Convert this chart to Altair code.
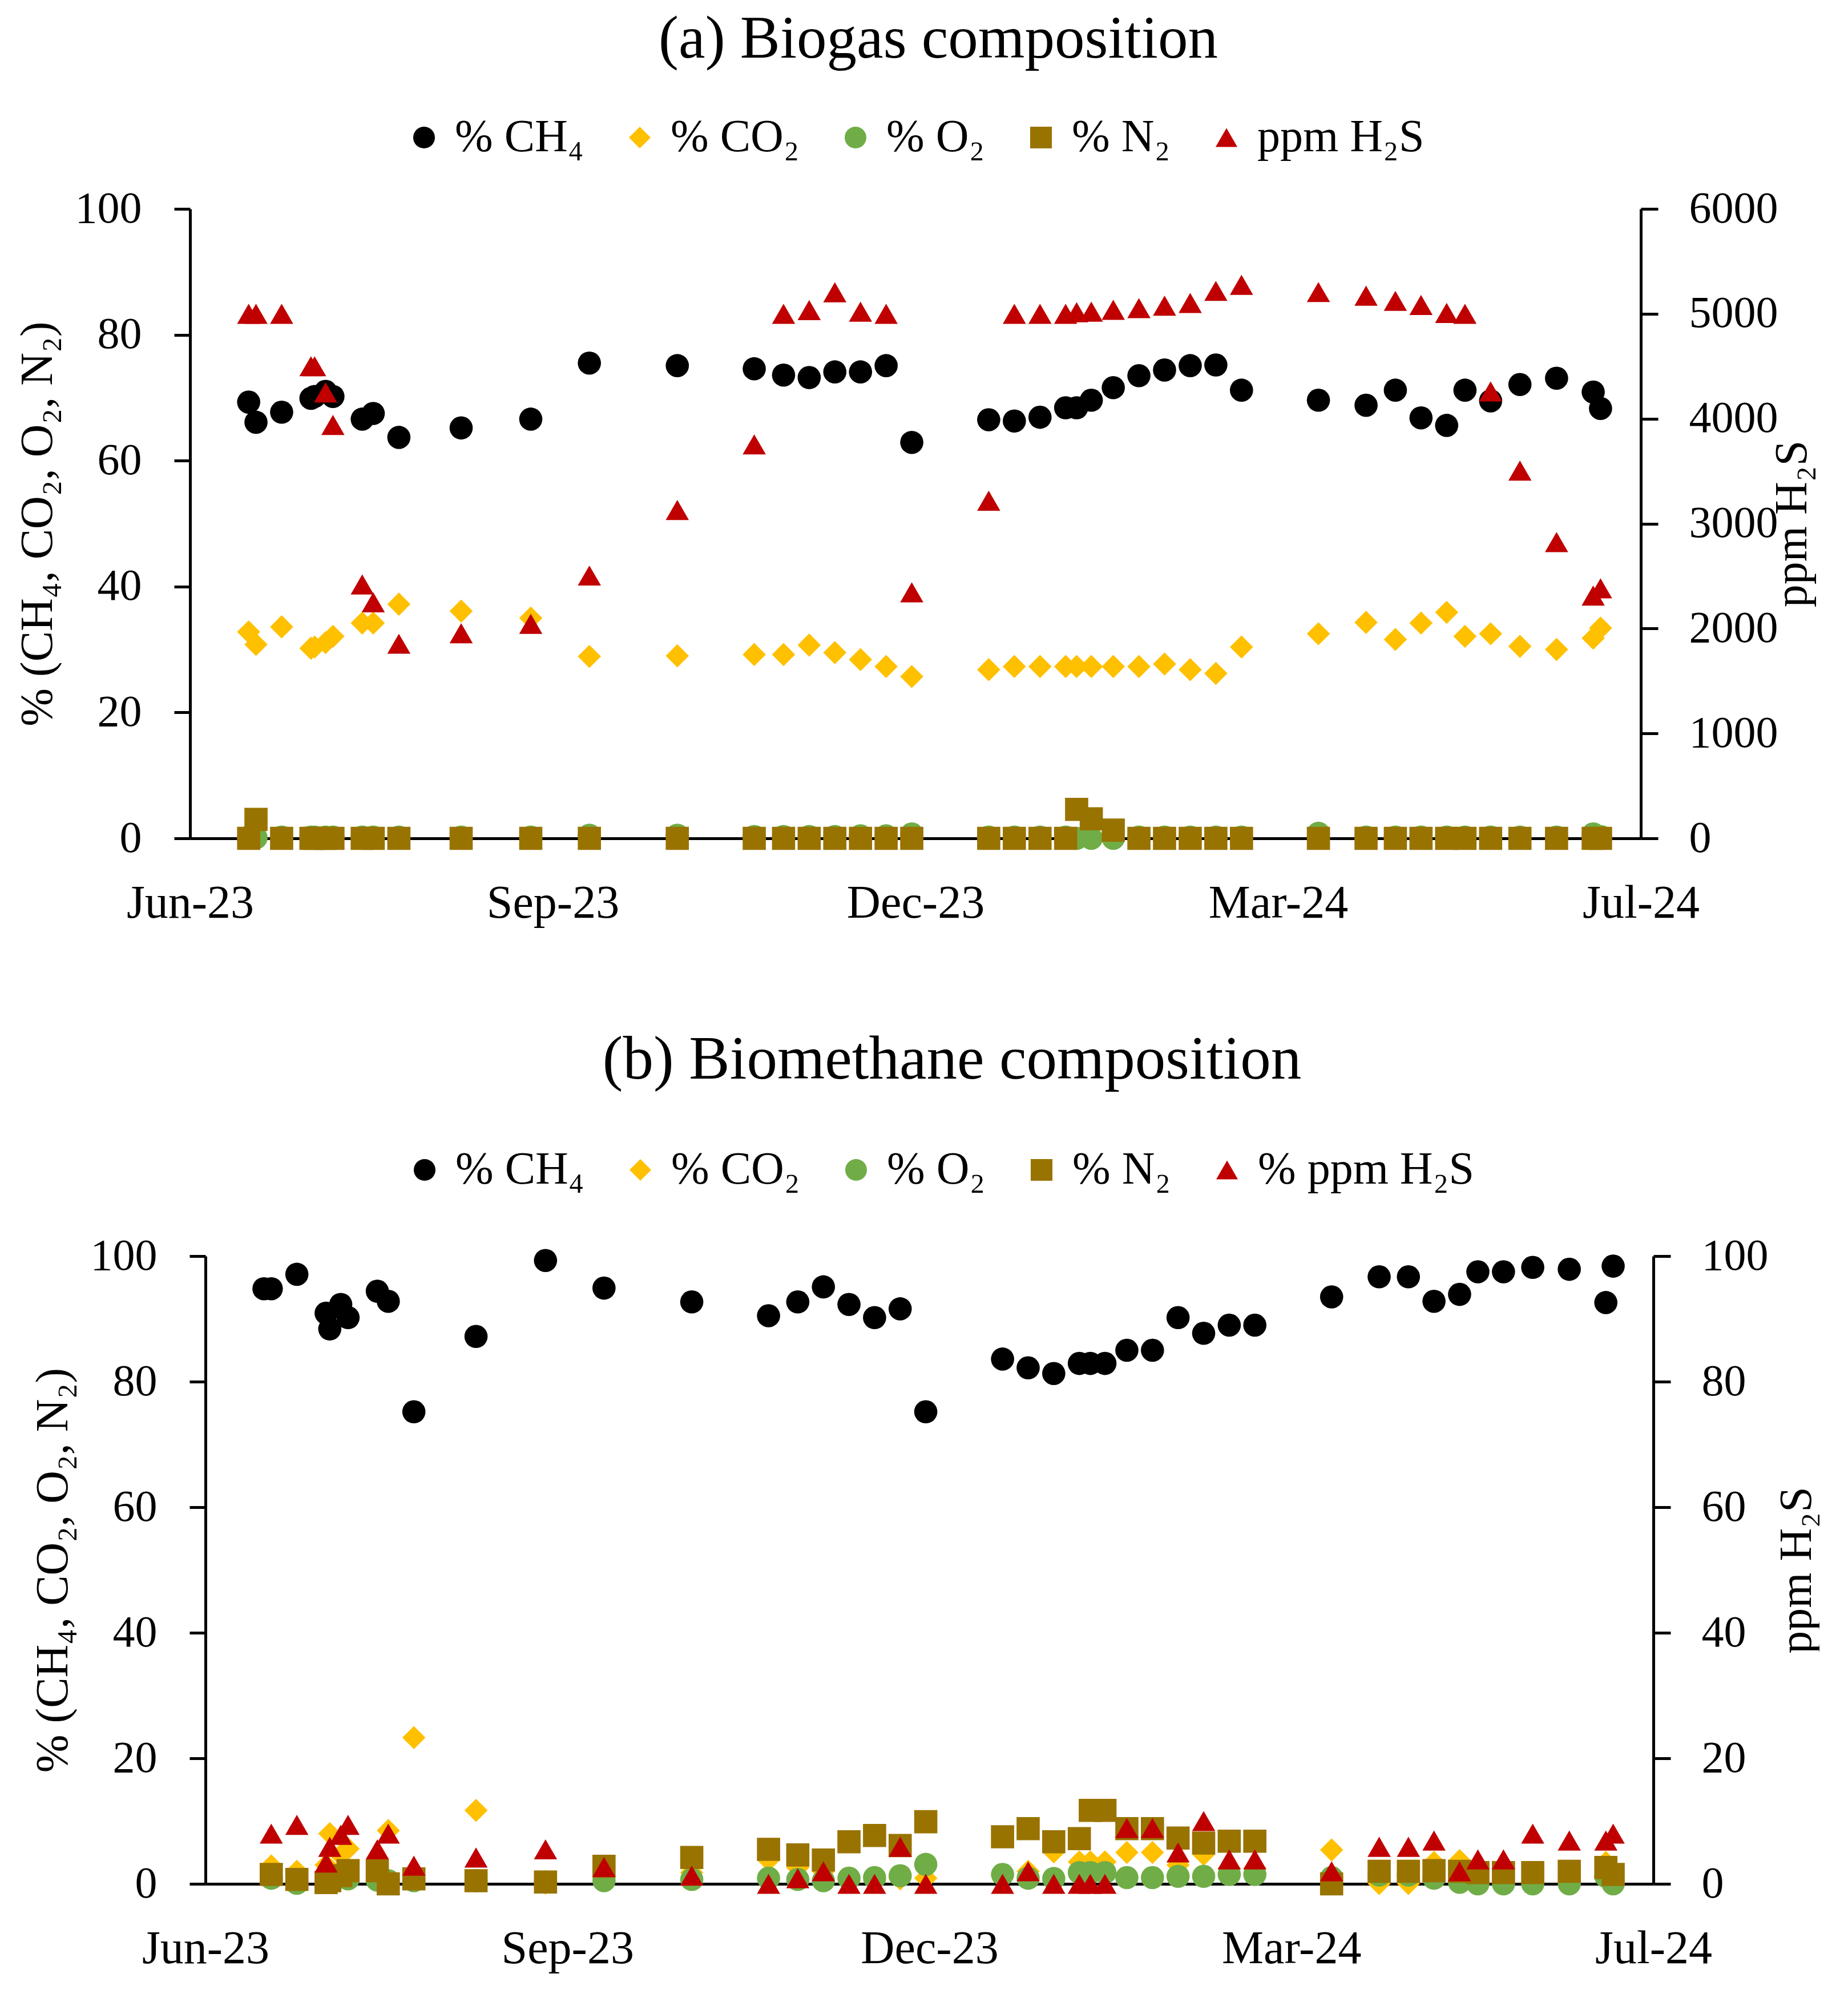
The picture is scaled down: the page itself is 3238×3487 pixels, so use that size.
import altair as alt
import pandas as pd

FONT = "Liberation Serif"

# sampling dates (shared by both panels)
dates = ["2023-06-17", "2023-06-19", "2023-06-26", "2023-07-04", "2023-07-05", "2023-07-08",
         "2023-07-10", "2023-07-18", "2023-07-21", "2023-07-28", "2023-08-14", "2023-09-02",
         "2023-09-18", "2023-10-12", "2023-11-02", "2023-11-10", "2023-11-17", "2023-11-24",
         "2023-12-01", "2023-12-08", "2023-12-15", "2024-01-05", "2024-01-12", "2024-01-19",
         "2024-01-26", "2024-01-29", "2024-02-02", "2024-02-08", "2024-02-15", "2024-02-22",
         "2024-02-29", "2024-03-07", "2024-03-14", "2024-04-04", "2024-04-17", "2024-04-25",
         "2024-05-02", "2024-05-09", "2024-05-14", "2024-05-21", "2024-05-29", "2024-06-08",
         "2024-06-18", "2024-06-20"]

# (a) biogas
ch4_a = [69.3, 66.1, 67.7, 69.9, 70.2, 71.0, 70.2, 66.6, 67.5, 63.7, 65.2, 66.6, 75.5, 75.1,
         74.6, 73.6, 73.2, 74.1, 74.1, 75.1, 62.9, 66.5, 66.3, 66.9, 68.4, 68.4, 69.6, 71.6,
         73.5, 74.4, 75.1, 75.2, 71.2, 69.6, 68.8, 71.2, 66.8, 65.6, 71.2, 69.5, 72.1, 73.1,
         70.9, 68.3]
co2_a = [32.8, 30.8, 33.6, 30.2, 30.4, 31.1, 32.1, 34.2, 34.2, 37.2, 36.1, 35.0, 28.9, 29.0,
         29.2, 29.2, 30.7, 29.5, 28.4, 27.3, 25.7, 26.8, 27.3, 27.3, 27.3, 27.3, 27.3, 27.3,
         27.3, 27.7, 26.8, 26.2, 30.4, 32.5, 34.3, 31.6, 34.2, 35.9, 32.1, 32.5, 30.5, 30.0,
         31.8, 33.4]
o2_a = [0.2, 0.1, 0.2, 0.2, 0.2, 0.2, 0.2, 0.2, 0.2, 0.2, 0.2, 0.2, 0.5, 0.5, 0.3, 0.3, 0.3,
        0.3, 0.4, 0.4, 0.7, 0.2, 0.2, 0.2, 0.2, 0.0, 0.0, 0.0, 0.2, 0.2, 0.2, 0.2, 0.2, 0.8,
        0.2, 0.2, 0.2, 0.2, 0.2, 0.2, 0.2, 0.2, 0.7, 0.3]
n2_a = [0.0, 3.0, 0.0, 0.0, 0.0, 0.0, 0.0, 0.0, 0.0, 0.0, 0.0, 0.0, 0.0, 0.0, 0.0, 0.0, 0.0,
        0.0, 0.0, 0.0, 0.0, 0.0, 0.0, 0.0, 0.0, 4.6, 3.1, 1.3, 0.0, 0.0, 0.0, 0.0, 0.0, 0.0,
        0.0, 0.0, 0.0, 0.0, 0.0, 0.0, 0.0, 0.0, 0.0, 0.0]
h2s_a = [5000, 5000, 5000, 4500, 4500, 4250, 3940, 2420, 2250, 1855, 1955, 2045, 2505, 3130,
         3755, 5000, 5035, 5205, 5020, 5000, 2345, 3218, 5000, 5000, 5000, 5015, 5020, 5038,
         5054, 5077, 5103, 5218, 5276, 5207, 5172, 5123, 5084, 5008, 5000, 4260, 3505, 2824,
         2314, 2383]

# (b) biomethane
ch4_b = [94.8, 94.8, 97.1, 90.9, 88.4, 92.3, 90.2, 94.4, 92.8, 75.2, 87.2, 99.3, 94.9, 92.7,
         90.5, 92.7, 95.1, 92.3, 90.2, 91.6, 75.2, 83.6, 82.2, 81.3, 82.9, 82.9, 82.9, 85.0,
         85.0, 90.2, 87.7, 89.0, 89.0, 93.5, 96.7, 96.7, 92.8, 93.9, 97.5, 97.5, 98.2, 97.9,
         92.6, 98.4]
co2_b = [None, 2.85, 2.0, 3.0, 8.0, 4.6, 5.6, 3.5, 8.5, 23.3, 11.7, 0.1, 2.5, 1.8, 3.8, 2.6,
         2.0, 0.4, 0.4, 0.8, 0.9, 1.3, 2.0, 5.1, 3.5, 3.5, 3.5, 5.0, 5.0, 3.0, 4.7, 2.5, 2.5,
         5.4, 0.05, 0.05, 3.4, 3.7, 1.8, 1.8, 1.8, 1.8, 3.4, 1.5]
o2_b = [None, 0.9, 0.1, 0.5, 1.0, 1.2, 0.8, 0.6, 0.5, 0.5, 0.5, 0.3, 0.5, 0.7, 0.9, 0.7, 0.5,
        0.9, 1.0, 1.3, 3.1, 1.5, 0.9, 0.85, 1.8, 1.8, 1.8, 1.0, 1.0, 1.2, 1.2, 1.5, 1.5, 1.0,
        1.4, 1.4, 0.9, 0.25, 0.0, 0.0, 0.0, 0.0, 1.2, 0.0]
n2_b = [None, 1.5, 0.7, 0.2, 0.5, 1.3, 2.1, 2.1, 0.0, 0.8, 0.5, 0.3, 2.8, 4.2, 5.5, 4.6, 3.8,
        6.7, 7.7, 6.1, 9.9, 7.5, 8.8, 6.7, 7.2, 11.7, 11.7, 8.8, 8.8, 7.3, 6.5, 6.8, 6.8, 0.0,
        2.0, 2.0, 2.1, 2.0, 1.8, 1.8, 1.8, 2.0, 2.6, 1.5]
h2s_b = [None, 8.0, 9.4, 3.4, 5.9, 7.8, 9.4, 5.5, 8.0, 2.9, 4.2, 5.5, 2.7, 1.3, 0.0, 0.9, 2.0,
         0.0, 0.0, 5.9, 0.0, 0.0, 2.0, 0.0, 0.0, 0.0, 0.0, 8.9, 8.9, 5.0, 10.0, 3.9, 3.9, 2.0,
         5.9, 5.9, 6.9, 2.0, 3.9, 3.9, 8.0, 6.9, 6.9, 8.0]

labels_a = ["% CH₄", "% CO₂", "% O₂", "% N₂", "ppm H₂S"]
labels_b = ["% CH₄", "% CO₂", "% O₂", "% N₂", "% ppm H₂S"]
colors = ["#000000", "#FFC000", "#70AD47", "#997300", "#C00000"]
shapes = ["circle", "diamond", "circle", "square", "triangle-up"]

x_ticks = [(2023, 6, 1), (2023, 9, 8), (2023, 12, 16), (2024, 3, 24), (2024, 7, 1)]
left_ticks = [0, 20, 40, 60, 80, 100]
right_ticks_a = [0, 1000, 2000, 3000, 4000, 5000, 6000]
right_ticks_b = [0, 20, 40, 60, 80, 100]

left_title = "% (CH₄, CO₂, O₂, N₂)"
right_title = "ppm H₂S"


def dt(t):
    return alt.DateTime(year=t[0], month=t[1], date=t[2])


def long_df(series, labels, start_rank):
    rows = []
    for k, (vals, lab) in enumerate(zip(series, labels)):
        for d, v in zip(dates, vals):
            if v is None:
                continue
            rows.append({"date": d + "T00:00:00", "value": v, "series": lab,
                         "rank": start_rank + k})
    return pd.DataFrame(rows)


def panel(series, labels, rmax, rticks, title, w, h, x0, leg_x, leg_y, title_off,
          title_dx, title_size, r_tpad):
    xenc = alt.X(
        "date:T", title=None,
        scale=alt.Scale(domain=[dt(x_ticks[0]), dt(x_ticks[-1])], nice=False,
                        range=[x0, w]),
        axis=alt.Axis(values=[dt(t) for t in x_ticks], format="%b-%y", formatType="time",
                      labelFlush=False, ticks=False, tickSize=0, grid=False,
                      domainColor="black", domainWidth=5, labelFont=FONT,
                      labelFontSize=82, labelColor="black", labelPadding=73,
                      labelOverlap=False, labelLimit=0),
    )
    leg = alt.Legend(orient="none", legendX=leg_x, legendY=leg_y, direction="horizontal",
                     title=None, labelFont=FONT, labelFontSize=80, labelColor="black",
                     symbolSize=1450, symbolStrokeWidth=0, symbolOpacity=1,
                     labelOffset=14, columnPadding=58, padding=0, labelLimit=0)
    col = alt.Color("series:N", scale=alt.Scale(domain=labels, range=colors), legend=leg)
    shp = alt.Shape("series:N", scale=alt.Scale(domain=labels, range=shapes), legend=leg)

    left = alt.Chart(long_df(series[:4], labels[:4], 0)).mark_point(
        filled=True, size=1650, opacity=1, strokeWidth=0
    ).encode(
        x=xenc,
        y=alt.Y("value:Q", scale=alt.Scale(domain=[0, 100], nice=False),
                axis=alt.Axis(orient="left", values=left_ticks, title=left_title,
                              grid=False, domainColor="black", domainWidth=5,
                              tickColor="black", tickWidth=5, tickSize=28,
                              labelFont=FONT, labelFontSize=78, labelColor="black",
                              labelPadding=57, titleFont=FONT, titleFontSize=80,
                              titleFontWeight="normal", titleColor="black",
                              titlePadding=26, offset=-x0)),
        color=col, shape=shp, order=alt.Order("rank:Q"),
    )
    right = alt.Chart(long_df(series[4:], labels[4:], 4)).mark_point(
        filled=True, size=1650, opacity=1, strokeWidth=0
    ).encode(
        x=xenc,
        y=alt.Y("value:Q", scale=alt.Scale(domain=[0, rmax], nice=False),
                axis=alt.Axis(orient="right", values=rticks, format="d", title=right_title,
                              grid=False, domainColor="black", domainWidth=5,
                              tickColor="black", tickWidth=5, tickSize=30,
                              labelFont=FONT, labelFontSize=78, labelColor="black",
                              labelPadding=54, titleFont=FONT, titleFontSize=80,
                              titleFontWeight="normal", titleColor="black",
                              titleAngle=270, titleBaseline="top", titlePadding=r_tpad)),
        color=col, shape=shp,
    )
    return alt.layer(left, right).resolve_scale(y="independent").properties(
        width=w, height=h,
        title=alt.TitleParams(text=title, font=FONT, fontSize=title_size,
                              fontWeight="normal", color="black", anchor="middle",
                              frame="group", dx=title_dx, offset=title_off),
    )


pa = panel([ch4_a, co2_a, o2_a, n2_a, h2s_a], labels_a, 6000, right_ticks_a,
           "(a) Biogas composition", 2542, 1103, 0, 370, -165, 78, 40, 105, 26)
pb = panel([ch4_b, co2_b, o2_b, n2_b, h2s_b], labels_b, 100, right_ticks_b,
           "(b) Biomethane composition", 2564, 1100, 27, 371, -191, 98, 53, 107, 12)

chart = alt.vconcat(pa, pb, spacing=181).resolve_scale(
    x="independent", y="independent", color="independent", shape="independent"
).properties(
    padding={"left": 18, "top": 9, "right": 0, "bottom": 14}
).configure_view(stroke=None)

chart.save("out.html", embed_options={"renderer": "svg", "actions": False})
